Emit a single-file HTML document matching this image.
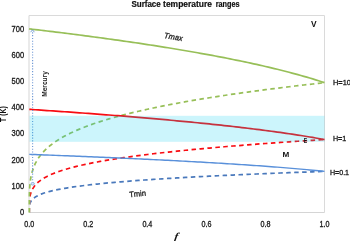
<!DOCTYPE html>
<html><head><meta charset="utf-8"><style>
html,body{margin:0;padding:0;background:#fff;width:350px;height:241px;overflow:hidden}
svg{display:block;will-change:transform;font-family:"Liberation Sans",sans-serif}
</style></head><body>
<svg width="350" height="241" viewBox="0 0 350 241">
<rect x="0" y="0" width="350" height="241" fill="#fff"/>
<g font-weight="bold" font-size="8.6" fill="#111" stroke="#111" stroke-width="0.2">
<text x="131.4" y="7.3" textLength="29.4" lengthAdjust="spacingAndGlyphs">Surface</text>
<text x="163.1" y="7.3" textLength="48.9" lengthAdjust="spacingAndGlyphs">temperature</text>
<text x="215.7" y="7.3" textLength="23.9" lengthAdjust="spacingAndGlyphs">ranges</text>
</g>
<path d="M29,15.5 H324.5 V212.5" fill="none" stroke="#DADADA" stroke-width="1"/>
<path d="M29,15.5 V212.5 H324.5" fill="none" stroke="#D5D5D5" stroke-width="1"/>
<g font-size="8.2" fill="#1a1a1a" stroke="#1a1a1a" stroke-width="0.3">
<text x="24.2" y="215.05" text-anchor="end" textLength="4.2" lengthAdjust="spacingAndGlyphs">0</text>
<text x="24.2" y="188.84" text-anchor="end" textLength="12.6" lengthAdjust="spacingAndGlyphs">100</text>
<text x="24.2" y="162.62" text-anchor="end" textLength="12.6" lengthAdjust="spacingAndGlyphs">200</text>
<text x="24.2" y="136.41" text-anchor="end" textLength="12.6" lengthAdjust="spacingAndGlyphs">300</text>
<text x="24.2" y="110.19" text-anchor="end" textLength="12.6" lengthAdjust="spacingAndGlyphs">400</text>
<text x="24.2" y="83.98" text-anchor="end" textLength="12.6" lengthAdjust="spacingAndGlyphs">500</text>
<text x="24.2" y="57.77" text-anchor="end" textLength="12.6" lengthAdjust="spacingAndGlyphs">600</text>
<text x="24.2" y="31.55" text-anchor="end" textLength="12.6" lengthAdjust="spacingAndGlyphs">700</text>
<text x="29.30" y="226.6" text-anchor="middle" textLength="10" lengthAdjust="spacingAndGlyphs">0.0</text>
<text x="88.34" y="226.6" text-anchor="middle" textLength="10" lengthAdjust="spacingAndGlyphs">0.2</text>
<text x="147.38" y="226.6" text-anchor="middle" textLength="10" lengthAdjust="spacingAndGlyphs">0.4</text>
<text x="206.42" y="226.6" text-anchor="middle" textLength="10" lengthAdjust="spacingAndGlyphs">0.6</text>
<text x="265.46" y="226.6" text-anchor="middle" textLength="10" lengthAdjust="spacingAndGlyphs">0.8</text>
<text x="324.50" y="226.6" text-anchor="middle" textLength="10" lengthAdjust="spacingAndGlyphs">1.0</text>
</g>
<g fill="none" stroke-width="1.7" stroke-linejoin="round">
<clipPath id="c0"><path d="M0,0 H350 V241 H0 Z M0,196 V241 H30.2 V196 Z" clip-rule="evenodd"/></clipPath>
<g clip-path="url(#c0)">
<path d="M29.30,212.50 L29.33,208.39 L29.34,207.95 L29.37,207.46 L29.40,206.93 L29.45,206.33 L29.52,205.68 L29.64,204.95 L29.80,204.14 L30.06,203.25 L30.43,202.26 L31.00,201.17 L31.85,199.96 L32.25,199.50 L35.20,197.04 L38.16,195.39 L41.11,194.11 L44.06,193.06 L47.01,192.15 L49.96,191.35 L52.92,190.63 L55.87,189.98 L58.82,189.38 L61.77,188.82 L64.72,188.30 L67.68,187.81 L70.63,187.35 L73.58,186.91 L76.53,186.50 L79.48,186.10 L82.44,185.72 L85.39,185.36 L88.34,185.01 L91.29,184.67 L94.24,184.34 L97.20,184.03 L100.15,183.72 L103.10,183.43 L106.05,183.14 L109.00,182.86 L111.96,182.59 L114.91,182.33 L117.86,182.07 L120.81,181.82 L123.76,181.58 L126.72,181.34 L129.67,181.11 L132.62,180.88 L135.57,180.65 L138.52,180.44 L141.48,180.22 L144.43,180.01 L147.38,179.80 L150.33,179.60 L153.28,179.40 L156.24,179.21 L159.19,179.02 L162.14,178.83 L165.09,178.64 L168.04,178.46 L171.00,178.28 L173.95,178.10 L176.90,177.93 L179.85,177.76 L182.80,177.59 L185.76,177.42 L188.71,177.26 L191.66,177.09 L194.61,176.93 L197.56,176.78 L200.52,176.62 L203.47,176.47 L206.42,176.32 L209.37,176.17 L212.32,176.02 L215.28,175.87 L218.23,175.73 L221.18,175.58 L224.13,175.44 L227.08,175.30 L230.04,175.17 L232.99,175.03 L235.94,174.89 L238.89,174.76 L241.84,174.63 L244.80,174.50 L247.75,174.37 L250.70,174.24 L253.65,174.11 L256.60,173.99 L259.56,173.86 L262.51,173.74 L265.46,173.62 L268.41,173.50 L271.36,173.38 L274.32,173.26 L277.27,173.14 L280.22,173.02 L283.17,172.91 L286.12,172.79 L289.08,172.68 L292.03,172.57 L294.98,172.46 L297.93,172.34 L300.88,172.24 L303.84,172.13 L306.79,172.02 L309.74,171.91 L312.69,171.80 L315.64,171.70 L318.60,171.59 L321.55,171.49 L324.50,171.39" stroke="#4A79BC" stroke-dasharray="4.5 3.46"/>
<path d="M29.30,212.50 L29.33,205.21 L29.34,204.43 L29.37,203.57 L29.40,202.61 L29.45,201.56 L29.52,200.39 L29.64,199.10 L29.80,197.67 L30.06,196.09 L30.43,194.34 L31.00,192.40 L31.85,190.26 L32.25,189.43 L35.20,185.07 L38.16,182.14 L41.11,179.88 L44.06,178.01 L47.01,176.40 L49.96,174.98 L52.92,173.71 L55.87,172.55 L58.82,171.48 L61.77,170.49 L64.72,169.57 L67.68,168.70 L70.63,167.88 L73.58,167.11 L76.53,166.37 L79.48,165.66 L82.44,164.99 L85.39,164.34 L88.34,163.72 L91.29,163.12 L94.24,162.55 L97.20,161.99 L100.15,161.45 L103.10,160.92 L106.05,160.42 L109.00,159.92 L111.96,159.44 L114.91,158.97 L117.86,158.52 L120.81,158.07 L123.76,157.64 L126.72,157.22 L129.67,156.80 L132.62,156.40 L135.57,156.00 L138.52,155.61 L141.48,155.23 L144.43,154.86 L147.38,154.49 L150.33,154.13 L153.28,153.78 L156.24,153.44 L159.19,153.09 L162.14,152.76 L165.09,152.43 L168.04,152.11 L171.00,151.79 L173.95,151.47 L176.90,151.17 L179.85,150.86 L182.80,150.56 L185.76,150.27 L188.71,149.97 L191.66,149.69 L194.61,149.40 L197.56,149.12 L200.52,148.85 L203.47,148.57 L206.42,148.31 L209.37,148.04 L212.32,147.78 L215.28,147.52 L218.23,147.26 L221.18,147.01 L224.13,146.76 L227.08,146.51 L230.04,146.26 L232.99,146.02 L235.94,145.78 L238.89,145.55 L241.84,145.31 L244.80,145.08 L247.75,144.85 L250.70,144.62 L253.65,144.40 L256.60,144.17 L259.56,143.95 L262.51,143.73 L265.46,143.52 L268.41,143.30 L271.36,143.09 L274.32,142.88 L277.27,142.67 L280.22,142.46 L283.17,142.26 L286.12,142.06 L289.08,141.85 L292.03,141.65 L294.98,141.46 L297.93,141.26 L300.88,141.07 L303.84,140.87 L306.79,140.68 L309.74,140.49 L312.69,140.30 L315.64,140.11 L318.60,139.93 L321.55,139.74 L324.50,139.56" stroke="#F80C12" stroke-dasharray="4.5 3.46"/>
</g>
<path d="M29.30,212.50 L29.33,199.52 L29.34,198.13 L29.37,196.60 L29.40,194.90 L29.45,193.02 L29.52,190.95 L29.64,188.65 L29.80,186.10 L30.06,183.28 L30.43,180.17 L31.00,176.72 L31.85,172.90 L32.25,171.44 L35.20,163.67 L38.16,158.46 L41.11,154.43 L44.06,151.10 L47.01,148.24 L49.96,145.71 L52.92,143.44 L55.87,141.38 L58.82,139.48 L61.77,137.72 L64.72,136.08 L67.68,134.53 L70.63,133.07 L73.58,131.69 L76.53,130.38 L79.48,129.12 L82.44,127.92 L85.39,126.77 L88.34,125.67 L91.29,124.60 L94.24,123.57 L97.20,122.58 L100.15,121.62 L103.10,120.69 L106.05,119.78 L109.00,118.90 L111.96,118.05 L114.91,117.21 L117.86,116.40 L120.81,115.61 L123.76,114.84 L126.72,114.09 L129.67,113.35 L132.62,112.63 L135.57,111.92 L138.52,111.23 L141.48,110.55 L144.43,109.89 L147.38,109.24 L150.33,108.60 L153.28,107.97 L156.24,107.35 L159.19,106.75 L162.14,106.15 L165.09,105.57 L168.04,104.99 L171.00,104.42 L173.95,103.86 L176.90,103.31 L179.85,102.77 L182.80,102.24 L185.76,101.71 L188.71,101.19 L191.66,100.68 L194.61,100.18 L197.56,99.68 L200.52,99.19 L203.47,98.70 L206.42,98.22 L209.37,97.75 L212.32,97.28 L215.28,96.82 L218.23,96.36 L221.18,95.91 L224.13,95.47 L227.08,95.03 L230.04,94.59 L232.99,94.16 L235.94,93.73 L238.89,93.31 L241.84,92.89 L244.80,92.48 L247.75,92.07 L250.70,91.67 L253.65,91.26 L256.60,90.87 L259.56,90.47 L262.51,90.09 L265.46,89.70 L268.41,89.32 L271.36,88.94 L274.32,88.56 L277.27,88.19 L280.22,87.82 L283.17,87.46 L286.12,87.10 L289.08,86.74 L292.03,86.38 L294.98,86.03 L297.93,85.68 L300.88,85.33 L303.84,84.99 L306.79,84.65 L309.74,84.31 L312.69,83.97 L315.64,83.64 L318.60,83.31 L321.55,82.98 L324.50,82.65" stroke="#97BF58" stroke-dasharray="4.5 3.46"/>
<path d="M29.30,154.36 L29.33,154.36 L29.34,154.36 L29.37,154.36 L29.40,154.36 L29.45,154.36 L29.52,154.37 L29.64,154.37 L29.80,154.38 L30.06,154.39 L30.43,154.40 L31.00,154.42 L31.85,154.45 L32.25,154.47 L35.20,154.58 L38.16,154.69 L41.11,154.80 L44.06,154.91 L47.01,155.02 L49.96,155.14 L52.92,155.25 L55.87,155.36 L58.82,155.48 L61.77,155.60 L64.72,155.71 L67.68,155.83 L70.63,155.95 L73.58,156.07 L76.53,156.19 L79.48,156.31 L82.44,156.43 L85.39,156.55 L88.34,156.67 L91.29,156.80 L94.24,156.92 L97.20,157.05 L100.15,157.17 L103.10,157.30 L106.05,157.43 L109.00,157.56 L111.96,157.68 L114.91,157.82 L117.86,157.95 L120.81,158.08 L123.76,158.21 L126.72,158.35 L129.67,158.48 L132.62,158.62 L135.57,158.76 L138.52,158.90 L141.48,159.03 L144.43,159.18 L147.38,159.32 L150.33,159.46 L153.28,159.60 L156.24,159.75 L159.19,159.90 L162.14,160.04 L165.09,160.19 L168.04,160.34 L171.00,160.50 L173.95,160.65 L176.90,160.80 L179.85,160.96 L182.80,161.12 L185.76,161.27 L188.71,161.43 L191.66,161.60 L194.61,161.76 L197.56,161.92 L200.52,162.09 L203.47,162.26 L206.42,162.43 L209.37,162.60 L212.32,162.77 L215.28,162.95 L218.23,163.13 L221.18,163.31 L224.13,163.49 L227.08,163.67 L230.04,163.85 L232.99,164.04 L235.94,164.23 L238.89,164.42 L241.84,164.62 L244.80,164.81 L247.75,165.01 L250.70,165.21 L253.65,165.42 L256.60,165.62 L259.56,165.83 L262.51,166.05 L265.46,166.26 L268.41,166.48 L271.36,166.70 L274.32,166.93 L277.27,167.15 L280.22,167.38 L283.17,167.62 L286.12,167.86 L289.08,168.10 L292.03,168.35 L294.98,168.60 L297.93,168.86 L300.88,169.12 L303.84,169.38 L306.79,169.65 L309.74,169.93 L312.69,170.21 L315.64,170.49 L318.60,170.78 L321.55,171.08 L324.50,171.39" stroke="#5990DA" stroke-width="1.45"/>
<path d="M29.30,109.35 L29.33,109.35 L29.34,109.35 L29.37,109.35 L29.40,109.35 L29.45,109.36 L29.52,109.36 L29.64,109.37 L29.80,109.38 L30.06,109.40 L30.43,109.42 L31.00,109.46 L31.85,109.52 L32.25,109.54 L35.20,109.74 L38.16,109.93 L41.11,110.13 L44.06,110.33 L47.01,110.53 L49.96,110.73 L52.92,110.93 L55.87,111.13 L58.82,111.34 L61.77,111.54 L64.72,111.75 L67.68,111.96 L70.63,112.17 L73.58,112.38 L76.53,112.59 L79.48,112.81 L82.44,113.02 L85.39,113.24 L88.34,113.45 L91.29,113.67 L94.24,113.89 L97.20,114.12 L100.15,114.34 L103.10,114.57 L106.05,114.79 L109.00,115.02 L111.96,115.25 L114.91,115.48 L117.86,115.72 L120.81,115.95 L123.76,116.19 L126.72,116.43 L129.67,116.67 L132.62,116.91 L135.57,117.15 L138.52,117.40 L141.48,117.65 L144.43,117.90 L147.38,118.15 L150.33,118.40 L153.28,118.66 L156.24,118.92 L159.19,119.18 L162.14,119.44 L165.09,119.70 L168.04,119.97 L171.00,120.24 L173.95,120.51 L176.90,120.78 L179.85,121.06 L182.80,121.34 L185.76,121.62 L188.71,121.90 L191.66,122.19 L194.61,122.48 L197.56,122.77 L200.52,123.07 L203.47,123.37 L206.42,123.67 L209.37,123.97 L212.32,124.28 L215.28,124.59 L218.23,124.91 L221.18,125.22 L224.13,125.54 L227.08,125.87 L230.04,126.20 L232.99,126.53 L235.94,126.86 L238.89,127.21 L241.84,127.55 L244.80,127.90 L247.75,128.25 L250.70,128.61 L253.65,128.97 L256.60,129.34 L259.56,129.71 L262.51,130.08 L265.46,130.47 L268.41,130.85 L271.36,131.25 L274.32,131.64 L277.27,132.05 L280.22,132.46 L283.17,132.88 L286.12,133.30 L289.08,133.73 L292.03,134.17 L294.98,134.62 L297.93,135.07 L300.88,135.53 L303.84,136.00 L306.79,136.48 L309.74,136.97 L312.69,137.46 L315.64,137.97 L318.60,138.49 L321.55,139.02 L324.50,139.56" stroke="#F80C12"/>
<path d="M29.30,28.87 L29.33,28.87 L29.34,28.88 L29.37,28.88 L29.40,28.88 L29.45,28.89 L29.52,28.90 L29.64,28.91 L29.80,28.93 L30.06,28.96 L30.43,29.00 L31.00,29.07 L31.85,29.17 L32.25,29.22 L35.20,29.56 L38.16,29.91 L41.11,30.26 L44.06,30.62 L47.01,30.97 L49.96,31.33 L52.92,31.69 L55.87,32.05 L58.82,32.42 L61.77,32.78 L64.72,33.15 L67.68,33.52 L70.63,33.89 L73.58,34.27 L76.53,34.65 L79.48,35.03 L82.44,35.41 L85.39,35.79 L88.34,36.18 L91.29,36.57 L94.24,36.97 L97.20,37.36 L100.15,37.76 L103.10,38.16 L106.05,38.56 L109.00,38.97 L111.96,39.38 L114.91,39.79 L117.86,40.21 L120.81,40.63 L123.76,41.05 L126.72,41.47 L129.67,41.90 L132.62,42.33 L135.57,42.76 L138.52,43.20 L141.48,43.64 L144.43,44.09 L147.38,44.54 L150.33,44.99 L153.28,45.44 L156.24,45.90 L159.19,46.37 L162.14,46.83 L165.09,47.30 L168.04,47.78 L171.00,48.26 L173.95,48.74 L176.90,49.23 L179.85,49.72 L182.80,50.22 L185.76,50.72 L188.71,51.22 L191.66,51.73 L194.61,52.25 L197.56,52.77 L200.52,53.30 L203.47,53.83 L206.42,54.36 L209.37,54.91 L212.32,55.45 L215.28,56.01 L218.23,56.57 L221.18,57.13 L224.13,57.70 L227.08,58.28 L230.04,58.86 L232.99,59.46 L235.94,60.05 L238.89,60.66 L241.84,61.27 L244.80,61.89 L247.75,62.52 L250.70,63.16 L253.65,63.80 L256.60,64.45 L259.56,65.11 L262.51,65.79 L265.46,66.47 L268.41,67.15 L271.36,67.85 L274.32,68.56 L277.27,69.28 L280.22,70.02 L283.17,70.76 L286.12,71.51 L289.08,72.28 L292.03,73.06 L294.98,73.85 L297.93,74.66 L300.88,75.48 L303.84,76.32 L306.79,77.17 L309.74,78.04 L312.69,78.92 L315.64,79.83 L318.60,80.75 L321.55,81.69 L324.50,82.65" stroke="#97BF58"/>
</g>
<path d="M32.6,32.34 V182.2" stroke="#7099D6" stroke-width="1.15" stroke-dasharray="1.1 1.67" fill="none"/>
<path d="M30.6,32.2 L32.5,29.8 L34.4,32.2" stroke="#5B8BCB" stroke-width="0.8" fill="none"/>
<ellipse cx="32.7" cy="183.8" rx="1.7" ry="1.3" fill="#DCE8F7" stroke="#6E9AD6" stroke-width="0.7"/>
<rect x="29.5" y="115.8" width="295.00" height="26" fill="rgb(0,205,240)" fill-opacity="0.2"/>
<text transform="translate(46.9,96.8) rotate(-90)" font-size="6.5" font-weight="bold" fill="#222" textLength="25.6" lengthAdjust="spacingAndGlyphs">Mercury</text>
<text transform="translate(5.8,121.9) rotate(-90)" font-size="8.4" font-weight="bold" fill="#111" textLength="15.8" lengthAdjust="spacingAndGlyphs">T (K)</text>
<text transform="translate(173.4,240.9) skewX(-10)" font-family="Liberation Serif" font-style="italic" font-weight="bold" font-size="12" fill="#111">f</text>
<text transform="translate(163.8,38.0) rotate(10)" font-size="8" font-style="italic" fill="#1a1a1a" stroke="#1a1a1a" stroke-width="0.3" textLength="18.6" lengthAdjust="spacingAndGlyphs">Tmax</text>
<text transform="translate(129.5,197.2) rotate(-5)" font-size="7.8" fill="#1a1a1a" stroke="#1a1a1a" stroke-width="0.3" textLength="16.8" lengthAdjust="spacingAndGlyphs">Tmin</text>
<g font-size="7.4" font-weight="bold" fill="#111">
<text x="311.0" y="27.0" font-size="8.2" textLength="5.6" lengthAdjust="spacingAndGlyphs">V</text>
<text x="282.4" y="156.8" textLength="6.8" lengthAdjust="spacingAndGlyphs">M</text>
<text x="303.8" y="143.3" textLength="3.4" lengthAdjust="spacingAndGlyphs">E</text>
</g>
<g font-size="7.2" fill="#1a1a1a" stroke="#1a1a1a" stroke-width="0.3">
<text x="333" y="84.7" textLength="18" lengthAdjust="spacingAndGlyphs">H=10</text>
<text x="332.9" y="140.9" textLength="13.3" lengthAdjust="spacingAndGlyphs">H=1</text>
<text x="329.9" y="174.9" textLength="19.2" lengthAdjust="spacingAndGlyphs">H=0.1</text>
</g>
</svg>
</body></html>
